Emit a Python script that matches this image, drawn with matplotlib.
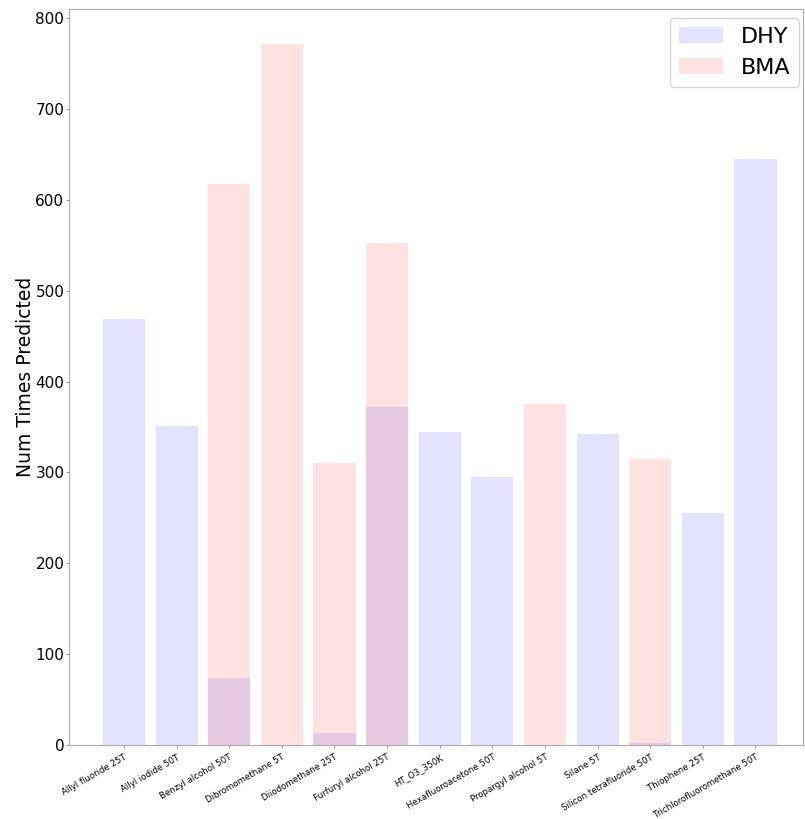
import numpy as np
import matplotlib.pyplot as plt

compounds = [
    "Allyl fluoride 25T", "Allyl iodide 50T", "Benzyl alcohol 50T",
    "Dibromomethane 5T", "Diiodomethane 25T", "Furfuryl alcohol 25T",
    "HT_O3_350K", "Hexafluoroacetone 50T", "Propargyl alcohol 5T",
    "Silane 5T", "Silicon tetrafluoride 50T", "Thiophene 25T",
    "Trichlorofluoromethane 50T",
]
dhy_counts = [469, 351, 74, 0, 13, 372, 344, 295, 0, 342, 2, 255, 645]
bma_counts = [0, 0, 617, 771, 310, 552, 0, 0, 375, 0, 315, 0, 0]

x = np.arange(len(compounds))

fig, ax = plt.subplots(figsize=(8.05, 8.19), dpi=100)
fig.subplots_adjust(left=0.086, right=0.998, top=0.989, bottom=0.0903)

ax.bar(x, dhy_counts, width=0.8, color="blue", alpha=0.11, label="DHY")
ax.bar(x, bma_counts, width=0.8, color="red", alpha=0.11, label="BMA")

ax.set_xlim(-1.04, 12.91)
ax.set_ylim(0, 810)
ax.set_xticks(x)
ax.set_xticklabels(compounds, rotation=30, ha="right", rotation_mode="anchor",
                   fontsize=6.2)
ax.tick_params(axis="y", labelsize=11, colors="#999999", labelcolor="black",
               length=2, pad=1.5)
ax.tick_params(axis="x", colors="#999999", labelcolor="black", length=2.5, pad=3)
ax.set_ylabel("Num Times Predicted", fontsize=13.5, labelpad=0)

for spine in ax.spines.values():
    spine.set_color("#aaaaaa")

ax.legend(loc="upper right", fontsize=16, bbox_to_anchor=(1.0095, 1.003))

fig.savefig("out.png")
